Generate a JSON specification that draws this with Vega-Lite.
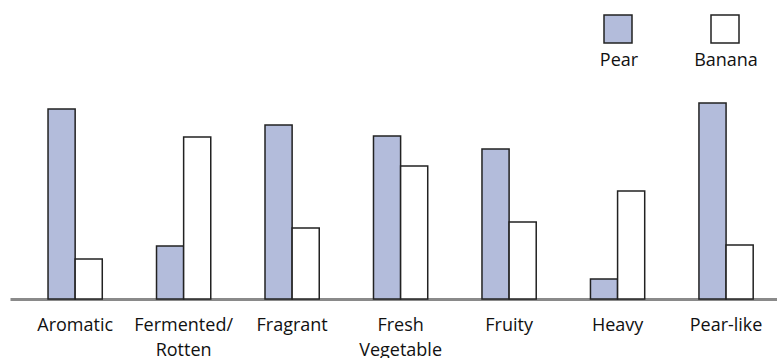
{
  "$schema": "https://vega.github.io/schema/vega-lite/v6.json",
  "width": 767,
  "height": 200,
  "autosize": {"type": "none"},
  "padding": {"left": 10, "top": 99, "right": 0, "bottom": 59},
  "background": "white",
  "config": {"view": {"stroke": null}, "font": "Open Sans"},
  "data": {"values": [
    {"attribute": "Aromatic", "fruit": "Pear", "value": 190},
    {"attribute": "Aromatic", "fruit": "Banana", "value": 40},
    {"attribute": "Fermented/ Rotten", "fruit": "Pear", "value": 53},
    {"attribute": "Fermented/ Rotten", "fruit": "Banana", "value": 162},
    {"attribute": "Fragrant", "fruit": "Pear", "value": 174},
    {"attribute": "Fragrant", "fruit": "Banana", "value": 71},
    {"attribute": "Fresh Vegetable", "fruit": "Pear", "value": 163},
    {"attribute": "Fresh Vegetable", "fruit": "Banana", "value": 133},
    {"attribute": "Fruity", "fruit": "Pear", "value": 150},
    {"attribute": "Fruity", "fruit": "Banana", "value": 77},
    {"attribute": "Heavy", "fruit": "Pear", "value": 20},
    {"attribute": "Heavy", "fruit": "Banana", "value": 108},
    {"attribute": "Pear-like", "fruit": "Pear", "value": 196},
    {"attribute": "Pear-like", "fruit": "Banana", "value": 54}
  ]},
  "mark": {"type": "bar", "stroke": "#222222", "strokeWidth": 1.5},
  "encoding": {
    "x": {
      "field": "attribute", "type": "nominal", "sort": null, "title": null,
      "scale": {"paddingInner": 0.5, "paddingOuter": 0.285, "align": 0.615},
      "axis": {
        "labelAngle": 0, "ticks": false, "domainColor": "#8a8a8a", "domainWidth": 3,
        "labelFontSize": 18, "labelColor": "#111111", "labelFont": "Open Sans",
        "labelPadding": 17, "labelLineHeight": 25, "labelBaseline": "top",
        "labelExpr": "datum.label == 'Fermented/ Rotten' ? ['Fermented/', 'Rotten'] : datum.label == 'Fresh Vegetable' ? ['Fresh', 'Vegetable'] : datum.label"
      }
    },
    "xOffset": {"field": "fruit", "type": "nominal", "sort": ["Pear", "Banana"], "scale": {"paddingInner": 0, "paddingOuter": 0}},
    "y": {"field": "value", "type": "quantitative", "scale": {"domain": [0, 200]}, "axis": null},
    "fill": {
      "field": "fruit", "type": "nominal", "sort": ["Pear", "Banana"],
      "scale": {"domain": ["Pear", "Banana"], "range": ["#b3bcdb", "#ffffff"]},
      "legend": {
        "title": null, "orient": "none", "legendX": 593, "legendY": -85,
        "direction": "horizontal", "symbolType": "square", "symbolSize": 784,
        "symbolStrokeColor": "#222222", "symbolStrokeWidth": 1.5,
        "labelFontSize": 18, "labelFont": "Open Sans", "labelColor": "#111111",
        "labelAlign": "center", "labelOffset": -14, "columnPadding": 55,
        "encode": {"labels": {"update": {"dy": {"value": 32}}}}
      }
    }
  }
}
